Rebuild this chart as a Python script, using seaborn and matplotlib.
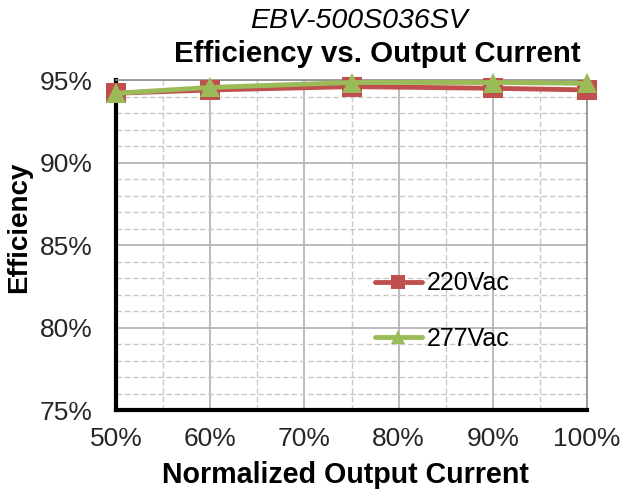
import numpy as np
import pandas as pd
import matplotlib
matplotlib.use("Agg")
import matplotlib.pyplot as plt
import seaborn as sns
from matplotlib.ticker import MultipleLocator, FuncFormatter

load_pct = [50, 60, 75, 90, 100]
eff_220 = [94.2, 94.4, 94.6, 94.5, 94.4]
eff_277 = [94.2, 94.55, 94.85, 94.85, 94.8]
series = ["220Vac", "277Vac"]
colors = {"220Vac": "#C0504D", "277Vac": "#9BBB59"}
markers = {"220Vac": "s", "277Vac": "^"}

df = pd.DataFrame({
    "load": load_pct * 2,
    "eff": eff_220 + eff_277,
    "series": [series[0]] * len(load_pct) + [series[1]] * len(load_pct),
})

sns.set_style("white")
plt.rcParams["font.family"] = ["Liberation Sans", "DejaVu Sans"]

fig = plt.figure(figsize=(6.22, 4.94), dpi=100)
ax = fig.add_axes([0.1865, 0.170, 0.7575, 0.668])

sns.lineplot(data=df, x="load", y="eff", hue="series", style="series",
             palette=colors, markers=markers, dashes=False,
             linewidth=3.5, markersize=14, markeredgewidth=0,
             ax=ax, clip_on=False, zorder=5)

ax.set_xlim(50, 100)
ax.set_ylim(75, 95)
ax.xaxis.set_major_locator(MultipleLocator(10))
ax.xaxis.set_minor_locator(MultipleLocator(5))
ax.yaxis.set_major_locator(MultipleLocator(5))
ax.yaxis.set_minor_locator(MultipleLocator(1))
pct = FuncFormatter(lambda v, p: f"{v:.0f}%")
ax.xaxis.set_major_formatter(pct)
ax.yaxis.set_major_formatter(pct)

ax.grid(True, which="major", color="#b0b0b0", linewidth=1.2)
ax.grid(True, which="minor", color="#c8c8c8", linewidth=1.0, linestyle=(0, (4, 2)))
ax.set_axisbelow(True)

for side in ["left", "bottom"]:
    ax.spines[side].set_color("black")
    ax.spines[side].set_linewidth(3)
for side in ["top", "right"]:
    ax.spines[side].set_color("#909090")
    ax.spines[side].set_linewidth(1.2)

ax.tick_params(axis="both", which="major", direction="in", length=6, width=3,
               color="black", labelsize=19, labelcolor="#262626")
ax.tick_params(axis="x", which="major", pad=12.5)
ax.tick_params(axis="y", which="major", pad=17)
ax.tick_params(axis="both", which="minor", length=0)

ax.set_xlabel("Normalized Output Current", fontsize=20.6, fontweight="bold", color="black")
ax.set_ylabel("Efficiency", fontsize=20, fontweight="bold", color="black")
ax.xaxis.set_label_coords(0.487, -0.155)
ax.yaxis.set_label_coords(-0.178, 0.555)

fig.text(0.577, 0.943, "EBV-500S036SV", ha="center", va="baseline",
         fontsize=20.5, fontstyle="italic", color="black")
fig.text(0.606, 0.8745, "Efficiency vs. Output Current", ha="center", va="baseline",
         fontsize=21.2, fontweight="bold", color="black")

leg = ax.legend(loc="center left", bbox_to_anchor=(0.501, 0.30), frameon=False,
                fontsize=18, handlelength=1.9, handletextpad=0.2,
                labelspacing=1.25, markerscale=0.75)
for t in leg.get_texts():
    t.set_color("black")

fig.savefig("out.png", dpi=100)
